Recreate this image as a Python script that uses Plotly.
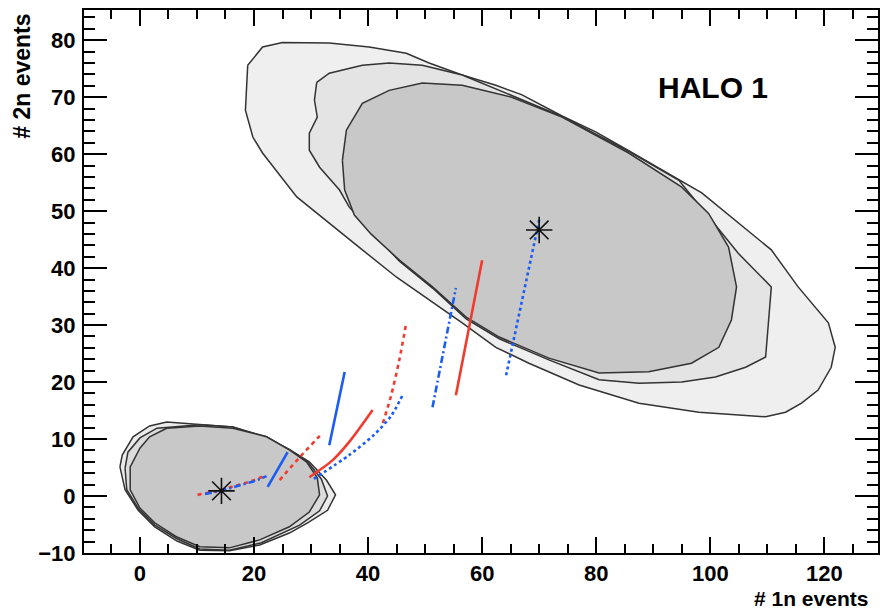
import plotly.graph_objects as go

# ---- contour regions (x = # 1n events, y = # 2n events) ----
big_outer_x = [18.9, 21.5, 25.0, 33.2, 40.2, 46.7, 50.7, 56.5, 62.4, 67.0, 74.0, 79.9, 85.7, 98.5,
               110.7, 115.4, 120.7, 121.9, 121.2, 118.9, 116.0, 113.2, 109.7, 98.0, 87.5, 77.0,
               68.2, 62.4, 56.5, 50.7, 45.0, 39.0, 33.2, 27.5, 21.5, 19.8, 18.5]
big_outer_y = [75.6, 78.8, 79.6, 79.5, 78.8, 77.7, 76.0, 73.9, 72.1, 70.4, 66.7, 63.9, 60.6, 53.2,
               43.2, 36.7, 30.4, 26.1, 22.6, 18.6, 16.3, 14.7, 13.9, 14.7, 16.3, 19.5,
               23.3, 26.1, 30.4, 34.4, 38.4, 43.2, 47.9, 52.5, 60.2, 63.0, 67.7]

big_mid_x = [31.0, 33.2, 39.0, 43.7, 49.5, 56.5, 65.2, 74.0, 85.7, 94.5, 100.2, 104.9, 110.7,
             110.2, 109.7, 106.2, 100.9, 95.0, 87.5, 80.5, 71.7, 63.0, 57.2, 51.3, 45.5,
             36.7, 35.0, 31.5, 29.7, 29.7, 31.1, 30.6]
big_mid_y = [72.6, 74.2, 75.6, 76.0, 75.6, 73.9, 70.3, 66.6, 60.5, 55.4, 48.4, 42.6, 36.7,
             30.9, 24.4, 22.6, 20.9, 20.0, 19.8, 20.4, 23.9, 27.6, 31.1, 36.5, 41.2,
             50.7, 53.7, 57.7, 60.7, 63.7, 66.5, 69.5]

big_in_x = [35.5, 36.2, 39.0, 43.7, 49.5, 56.5, 65.2, 74.0, 85.7, 95.0, 99.7, 103.2, 104.6,
            103.7, 101.5, 96.7, 89.2, 80.5, 71.7, 63.0, 57.2, 51.3, 45.5, 40.5, 37.6, 35.9]
big_in_y = [58.9, 64.2, 68.9, 71.2, 72.5, 72.1, 70.0, 66.5, 60.2, 54.2, 49.6, 43.7, 36.7,
            30.9, 26.1, 23.3, 21.8, 21.6, 24.2, 27.9, 31.4, 36.7, 41.4, 46.0, 49.3, 53.7]

small_outer_x = [-3.5, -3.1, -1.2, 1.7, 4.7, 10.5, 16.3, 22.2, 26.2, 29.7, 32.7, 34.3, 32.9,
                 29.4, 26.2, 21.0, 15.7, 10.5, 6.5, 2.6, -0.3, -2.6]
small_outer_y = [5.1, 7.2, 10.4, 12.3, 13.0, 12.6, 12.1, 10.2, 8.2, 6.0, 2.8, 0.2, -2.5,
                 -4.7, -6.5, -8.6, -9.6, -9.5, -7.9, -5.4, -2.5, 1.1]

small_mid_x = [-2.6, -2.1, 0.0, 3.0, 10.5, 16.3, 22.2, 26.2, 29.4, 31.8, 32.9, 31.5, 28.0,
               21.3, 15.7, 10.5, 6.5, 2.6, -0.2, -2.3]
small_mid_y = [4.9, 7.7, 10.2, 11.9, 12.5, 12.1, 10.4, 8.1, 6.0, 3.0, 0.0, -2.6, -5.1,
               -8.2, -9.5, -9.3, -7.5, -5.1, -2.3, 1.1]

small_in_x = [4.7, 10.5, 16.3, 22.2, 26.2, 29.2, 31.1, 31.5, 29.7, 26.2, 21.0, 15.7, 10.5,
              6.5, 2.6, 0.0, -1.7, -1.7, 0.0, 1.7]
small_in_y = [11.9, 12.3, 11.9, 10.4, 8.1, 6.0, 3.2, 0.2, -2.8, -5.4, -7.7, -9.1, -8.9,
              -7.2, -4.7, -2.1, 1.1, 5.1, 8.4, 10.4]

# ---- best-fit points ----
star_x = [14.3, 70.0]
star_y = [0.9, 46.7]

# ---- model tracks (None separates segments) ----
red_solid_x = [29.7, 33.8, 36.7, 40.8, None, 55.4, 60.0]
red_solid_y = [3.3, 6.3, 9.5, 15.1, None, 17.7, 41.4]

red_dot_x = [10.1, 13.5, 16.6, 19.5, 22.2, None, 24.5, 28.0, 32.0, None, 42.6, 44.0, 45.4, 46.7]
red_dot_y = [0.2, 0.9, 1.75, 2.6, 3.7, None, 2.8, 6.8, 11.05, None, 12.8, 17.5, 23.5, 30.4]

blue_solid_x = [22.4, 25.9, None, 33.2, 35.9]
blue_solid_y = [1.6, 7.7, None, 8.9, 21.75]

blue_dot_x = [30.5, 36.7, 41.0, 44.0, 46.0, None, 64.2, 70.1]
blue_dot_y = [3.0, 7.2, 10.7, 14.0, 17.6, None, 21.2, 48.9]

blue_dashdot_x = [11.4, 14.5, 17.5, 20.0, 22.2, None, 51.3, 55.4]
blue_dashdot_y = [0.35, 1.0, 1.9, 2.6, 3.5, None, 15.6, 36.5]

RED = "#f03c30"
BLUE = "#1c5cf5"
EDGE = "#333333"

fig = go.Figure()


def region(xs, ys, fill):
    fig.add_trace(go.Scatter(
        x=xs + xs[:1], y=ys + ys[:1], mode="lines", fill="toself", fillcolor=fill,
        line=dict(color=EDGE, width=1.5), hoverinfo="skip", showlegend=False))


region(big_outer_x, big_outer_y, "#efefef")
region(big_mid_x, big_mid_y, "#e4e4e4")
region(big_in_x, big_in_y, "#c8c8c8")
region(small_outer_x, small_outer_y, "#ebebeb")
region(small_mid_x, small_mid_y, "#dcdcdc")
region(small_in_x, small_in_y, "#c8c8c8")


def track(xs, ys, color, dash):
    fig.add_trace(go.Scatter(
        x=xs, y=ys, mode="lines", connectgaps=False,
        line=dict(color=color, width=2.6, dash=dash, shape="spline", smoothing=0.8),
        showlegend=False))


track(red_dot_x, red_dot_y, RED, "4px,4px")
track(blue_dashdot_x, blue_dashdot_y, BLUE, "7px,3px,2px,3px")
track(red_solid_x, red_solid_y, RED, "solid")
track(blue_solid_x, blue_solid_y, BLUE, "solid")
track(blue_dot_x, blue_dot_y, BLUE, "3px,3px")

fig.add_trace(go.Scatter(
    x=star_x, y=star_y, mode="markers",
    marker=dict(symbol="asterisk-open", size=22, color="#111111",
                line=dict(color="#111111", width=1.6)),
    showlegend=False))

FONT = "Liberation Sans, Arial, Helvetica, sans-serif"

axis_common = dict(
    showline=True, linecolor="black", linewidth=2, mirror="ticks",
    ticks="inside", tickcolor="black", tickwidth=2,
    showgrid=False, zeroline=False,
    tickfont=dict(family=FONT, size=22, color="black", weight="bold"),
)

fig.update_xaxes(range=[-9.8, 129.4], dtick=20, tick0=0, ticklen=16,
                 minor=dict(dtick=5, ticklen=9, tickwidth=1.5, ticks="inside", tickcolor="black"),
                 ticklabelstandoff=0, **axis_common)
fig.update_yaxes(range=[-10, 85.3], dtick=10, tick0=0, ticklen=23,
                 minor=dict(dtick=2, ticklen=11, tickwidth=1.5, ticks="inside", tickcolor="black"),
                 ticklabelstandoff=2, **axis_common)

fig.add_annotation(text="# 1n events", xref="paper", yref="paper", x=0.99, y=-0.0847,
                   xanchor="right", yanchor="middle", showarrow=False,
                   font=dict(family=FONT, size=21, color="black", weight="bold"))
fig.add_annotation(text="# 2n events", xref="paper", yref="paper", x=-0.078, y=0.996,
                   xanchor="center", yanchor="top", textangle=-90, showarrow=False,
                   font=dict(family=FONT, size=23, color="black", weight="bold"))
fig.add_annotation(text="HALO 1", xref="paper", yref="paper", x=0.72, y=0.858,
                   xanchor="left", yanchor="middle", showarrow=False,
                   font=dict(family=FONT, size=30, color="black", weight="bold"))

fig.update_layout(
    width=882, height=611,
    margin=dict(l=84, r=2, t=10, b=58),
    paper_bgcolor="white", plot_bgcolor="white",
    showlegend=False,
)

fig.write_html("out.html")
